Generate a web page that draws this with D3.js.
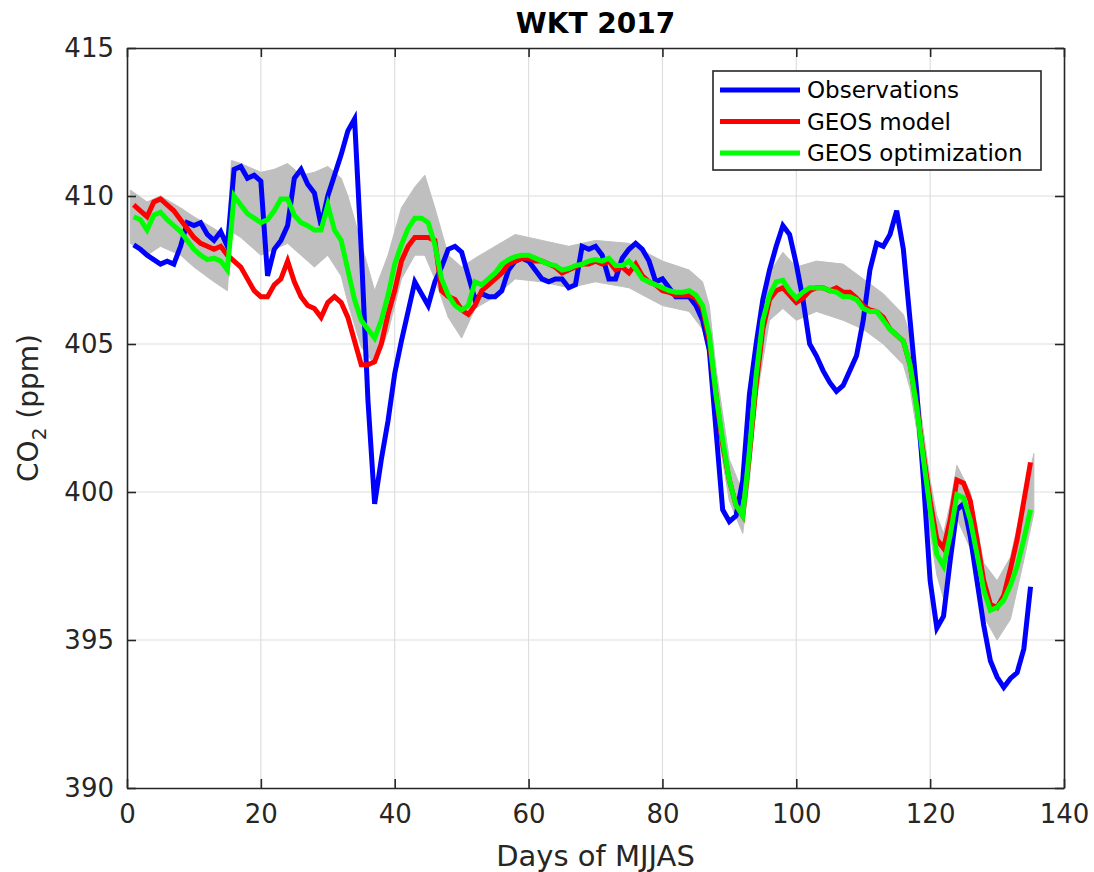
<!DOCTYPE html>
<html>
<head>
<meta charset="utf-8">
<script src="https://cdn.jsdelivr.net/npm/d3@7"></script>
<style>
  body { margin: 0; background: #fff; }
  text { font-family: "DejaVu Sans", sans-serif; fill: #262626; }
</style>
</head>
<body>
<div id="chart"></div>
<script>
// days 1..135 of May-Sep
var days = d3.range(1, 136);

var observations = [
  408.35, 408.2, 408.0, 407.85, 407.7, 407.8, 407.7, 408.3, 409.1, 409.0,
  409.1, 408.7, 408.5, 408.8, 408.3, 410.9, 411.0, 410.6, 410.7, 410.5,
  407.3, 408.2, 408.5, 409.0, 410.6, 410.9, 410.4, 410.1, 409.0, 410.0,
  410.7, 411.4, 412.2, 412.6, 408.2, 403.1, 399.6, 401.1, 402.4, 404.0,
  405.1, 406.1, 407.1, 406.7, 406.3, 407.1, 407.6, 408.2, 408.3, 408.1,
  407.3, 406.5, 406.7, 406.6, 406.6, 406.8, 407.5, 407.8, 407.9, 407.8,
  407.5, 407.2, 407.1, 407.2, 407.2, 406.9, 407.0, 408.3, 408.2, 408.3,
  408.0, 407.2, 407.2, 407.9, 408.2, 408.4, 408.2, 407.8, 407.1, 407.2,
  406.9, 406.6, 406.6, 406.6, 406.3, 405.8, 404.8, 402.1, 399.4, 399.0,
  399.2, 400.4, 403.3, 405.0, 406.5, 407.5, 408.3, 409.0, 408.7, 407.7,
  406.5, 405.0, 404.6, 404.1, 403.7, 403.4, 403.6, 404.1, 404.6, 405.8,
  407.5, 408.4, 408.3, 408.7, 409.5, 408.2, 405.8, 403.4, 400.4, 397.0,
  395.4, 395.8, 397.7, 399.4, 399.6, 398.5, 397.0, 395.5, 394.3, 393.75,
  393.4, 393.7, 393.9, 394.7, 396.8
];

var geosModel = [
  409.7, 409.5, 409.3, 409.8, 409.9, 409.7, 409.5, 409.2, 408.9, 408.6,
  408.4, 408.3, 408.2, 408.3, 408.0, 407.8, 407.6, 407.2, 406.8, 406.6,
  406.6, 407.0, 407.2, 407.8, 407.1, 406.6, 406.3, 406.2, 405.9, 406.4,
  406.6, 406.4, 405.9, 405.1, 404.3, 404.3, 404.4, 405.0, 406.0, 406.8,
  407.8, 408.3, 408.6, 408.6, 408.6, 408.5, 406.8, 406.6, 406.5, 406.15,
  406.0, 406.3, 406.8, 407.0, 407.2, 407.4, 407.7, 407.8, 407.9, 407.9,
  407.8, 407.8, 407.7, 407.6, 407.4, 407.5, 407.6, 407.7, 407.7, 407.8,
  407.7, 407.8, 407.5, 407.6, 407.4, 407.7, 407.3, 407.1, 407.0, 406.8,
  406.75, 406.65, 406.65, 406.65, 406.55, 406.2, 405.1, 403.3, 401.6, 400.4,
  399.55, 399.2, 401.25, 403.6, 405.5, 406.5, 406.8, 406.9, 406.65, 406.4,
  406.55, 406.8, 406.9, 406.9, 406.8, 406.9, 406.75, 406.75, 406.55, 406.3,
  406.15, 406.1, 405.9, 405.5, 405.3, 405.1, 404.3, 402.9, 401.25, 399.7,
  398.4, 398.1, 399.05, 400.4, 400.3, 399.7, 398.4, 397.0, 396.2, 396.1,
  396.5, 397.4, 398.4, 399.7, 401.0
];

var geosOptim = [
  409.3, 409.2, 408.85, 409.35, 409.45, 409.2, 409.0, 408.8, 408.5, 408.2,
  408.0, 407.85, 407.9, 407.8, 407.5, 410.0, 409.7, 409.4, 409.25, 409.1,
  409.2, 409.5, 409.9, 409.9, 409.35, 409.1, 409.0, 408.85, 408.85, 409.7,
  408.85, 408.5, 407.5, 406.5, 405.8, 405.5, 405.2, 405.8, 406.65, 407.7,
  408.35, 408.9, 409.25, 409.25, 409.1, 408.35, 407.2, 406.65, 406.3, 406.15,
  406.3, 407.1, 407.0, 407.2, 407.4, 407.7, 407.85, 407.95, 408.0, 408.0,
  407.9, 407.8, 407.7, 407.65, 407.5, 407.55, 407.65, 407.7, 407.8, 407.85,
  407.8, 407.9, 407.65, 407.65, 407.8, 407.55, 407.2, 407.1, 407.0, 406.9,
  406.8, 406.75, 406.75, 406.8, 406.65, 406.3, 405.3, 403.3, 401.75, 400.4,
  399.55, 399.2, 401.4, 403.95, 405.8, 406.65, 407.1, 407.15, 406.8, 406.55,
  406.75, 406.9, 406.9, 406.9, 406.8, 406.75, 406.6, 406.6, 406.5, 406.2,
  406.1, 406.1, 405.8, 405.5, 405.3, 405.1, 404.3, 402.85, 401.1, 399.4,
  397.9, 397.5, 398.55, 399.9, 399.8, 399.05, 397.9, 396.7, 396.0, 396.1,
  396.35, 396.85, 397.5, 398.4, 399.4
];

// grey ensemble spread of the optimization runs
var bandDays = [
  0.5, 3, 5, 8, 10, 13, 15, 15.6, 17, 20, 22, 24, 26, 28, 30, 32, 33, 35, 37, 39,
  41, 43, 44.5, 46, 48, 50, 52, 55, 58, 62, 66, 70, 75, 80, 84, 86, 87, 88, 90, 92,
  93, 94, 96, 98, 100, 103, 107, 110, 113, 116, 117, 118, 120, 121, 122, 123, 124, 126, 128, 130,
  132, 134, 135.5
];
var bandHigh = [
  410.2, 409.8, 410.0, 409.6, 409.3, 408.9, 408.6, 411.2, 411.1, 410.8, 410.9, 411.1, 410.7, 410.8, 411.0, 410.6, 410.0, 408.4, 406.8, 408.0,
  409.6, 410.3, 410.7, 409.6, 408.0, 407.6, 407.9, 408.3, 408.7, 408.5, 408.3, 408.5, 408.4, 407.8, 407.5, 407.1, 406.3, 404.2, 401.1, 400.0,
  402.2, 404.7, 407.4, 408.1, 407.6, 407.8, 407.7, 407.2, 406.7, 406.0, 405.3, 403.7, 400.4, 399.2, 398.6, 399.6, 400.9, 400.0, 397.6, 397.0,
  397.8, 399.8, 401.3
];
var bandLow = [
  408.4, 408.0, 408.3, 408.0, 407.6, 407.1, 406.8, 408.8, 408.6, 408.0, 408.2, 408.4, 408.0, 407.6, 408.0, 407.3, 406.4, 404.9, 404.3, 405.4,
  407.2, 408.0, 408.0, 407.2, 405.9, 405.2, 406.2, 406.6, 407.2, 407.1, 406.9, 407.1, 406.9, 406.3, 406.1, 405.5, 404.5, 402.4, 399.7, 398.6,
  400.4, 403.1, 405.8, 406.2, 405.8, 406.1, 405.8, 405.5, 405.0, 404.3, 403.5, 402.1, 398.6, 397.2, 396.4, 397.8, 399.1, 398.1, 395.8, 395.0,
  395.7, 397.7, 399.3
];

var xTicks = [0, 20, 40, 60, 80, 100, 120, 140];
var yTicks = [390, 395, 400, 405, 410, 415];
var seriesNames = ["Observations", "GEOS model", "GEOS optimization"];
var seriesColors = ["#0000ff", "#ff0000", "#00ff00"];

var W = 1094, H = 872;
var margin = {left: 127, right: 30, top: 48, bottom: 84};

var svg = d3.select("#chart").append("svg")
    .attr("width", W)
    .attr("height", H);

var x = d3.scaleLinear().domain([0, 140]).range([margin.left, W - margin.right]);
var y = d3.scaleLinear().domain([390, 415]).range([H - margin.bottom, margin.top]);

var x0 = x.range()[0], x1 = x.range()[1];
var y0 = y.range()[0], y1 = y.range()[1];

// grid
var grid = svg.append("g");
grid.selectAll(".gx").data(xTicks.slice(1, -1)).enter().append("line")
    .attr("x1", d => x(d)).attr("x2", d => x(d))
    .attr("y1", y1).attr("y2", y0)
    .style("stroke", "#dedede").style("stroke-width", 1.2);
grid.selectAll(".gy").data(yTicks.slice(1, -1)).enter().append("line")
    .attr("x1", x0).attr("x2", x1)
    .attr("y1", d => y(d)).attr("y2", d => y(d))
    .style("stroke", "#dedede").style("stroke-width", 1.2);

// ensemble band
var band = bandDays.map((d, i) => ({d: d, hi: bandHigh[i], lo: bandLow[i]}));
svg.append("path")
    .datum(band)
    .attr("d", d3.area().x(d => x(d.d)).y0(d => y(d.lo)).y1(d => y(d.hi)))
    .style("fill", "#bfbfbf")
    .style("stroke", "#bfbfbf")
    .style("stroke-width", 1);

// series lines
var series = [observations, geosModel, geosOptim];
var line = d3.line().x(d => x(d[0])).y(d => y(d[1]));
series.forEach(function(vals, k) {
    svg.append("path")
        .datum(days.map((d, i) => [d, vals[i]]))
        .attr("d", line)
        .style("fill", "none")
        .style("stroke", seriesColors[k])
        .style("stroke-width", 5)
        .style("stroke-linejoin", "miter");
});

// axes, ticks pointing inwards on all four sides
function styleAxis(g) {
    g.selectAll("path.domain").style("stroke", "#262626").style("stroke-width", 1.6);
    g.selectAll(".tick line").style("stroke", "#262626").style("stroke-width", 1.6);
    g.selectAll(".tick text")
        .style("font-family", "DejaVu Sans, sans-serif")
        .style("font-size", "26px")
        .style("fill", "#262626");
}

svg.append("g")
    .attr("transform", "translate(0," + y0 + ")")
    .call(d3.axisBottom(x).tickValues(xTicks).tickSizeInner(-9).tickSizeOuter(0).tickPadding(17))
    .call(styleAxis);
svg.append("g")
    .attr("transform", "translate(" + x0 + ",0)")
    .call(d3.axisLeft(y).tickValues(yTicks).tickSizeInner(-9).tickSizeOuter(0).tickPadding(13))
    .call(styleAxis);
svg.append("g")
    .attr("transform", "translate(0," + y1 + ")")
    .call(d3.axisTop(x).tickValues(xTicks).tickSizeInner(-9).tickSizeOuter(0).tickFormat(""))
    .call(styleAxis);
svg.append("g")
    .attr("transform", "translate(" + x1 + ",0)")
    .call(d3.axisRight(y).tickValues(yTicks).tickSizeInner(-9).tickSizeOuter(0).tickFormat(""))
    .call(styleAxis);

// title and labels
svg.append("text")
    .attr("x", (x0 + x1) / 2).attr("y", 33)
    .attr("text-anchor", "middle")
    .style("font-size", "28px").style("font-weight", "bold")
    .style("fill", "#000")
    .text("WKT 2017");

svg.append("text")
    .attr("x", (x0 + x1) / 2).attr("y", 866)
    .attr("text-anchor", "middle")
    .style("font-size", "29px")
    .text("Days of MJJAS");

var ylab = svg.append("text")
    .attr("transform", "translate(38," + ((y0 + y1) / 2 - 10) + ") rotate(-90)")
    .attr("text-anchor", "middle")
    .style("font-size", "28px");
ylab.append("tspan").text("CO");
ylab.append("tspan").attr("dy", 8).style("font-size", "20px").text("2");
ylab.append("tspan").attr("dy", -8).text(" (ppm)");

// legend
var leg = svg.append("g").attr("transform", "translate(713,71)");
leg.append("rect")
    .attr("width", 328).attr("height", 99)
    .style("fill", "#fff")
    .style("stroke", "#262626")
    .style("stroke-width", 1.6);
seriesNames.forEach(function(name, k) {
    var ry = 19 + k * 31.5;
    leg.append("line")
        .attr("x1", 7).attr("x2", 87)
        .attr("y1", ry).attr("y2", ry)
        .style("stroke", seriesColors[k])
        .style("stroke-width", 5);
    leg.append("text")
        .attr("x", 94).attr("y", ry)
        .attr("dy", "0.35em")
        .style("font-size", "23px")
        .style("fill", "#000")
        .text(name);
});
</script>
</body>
</html>
